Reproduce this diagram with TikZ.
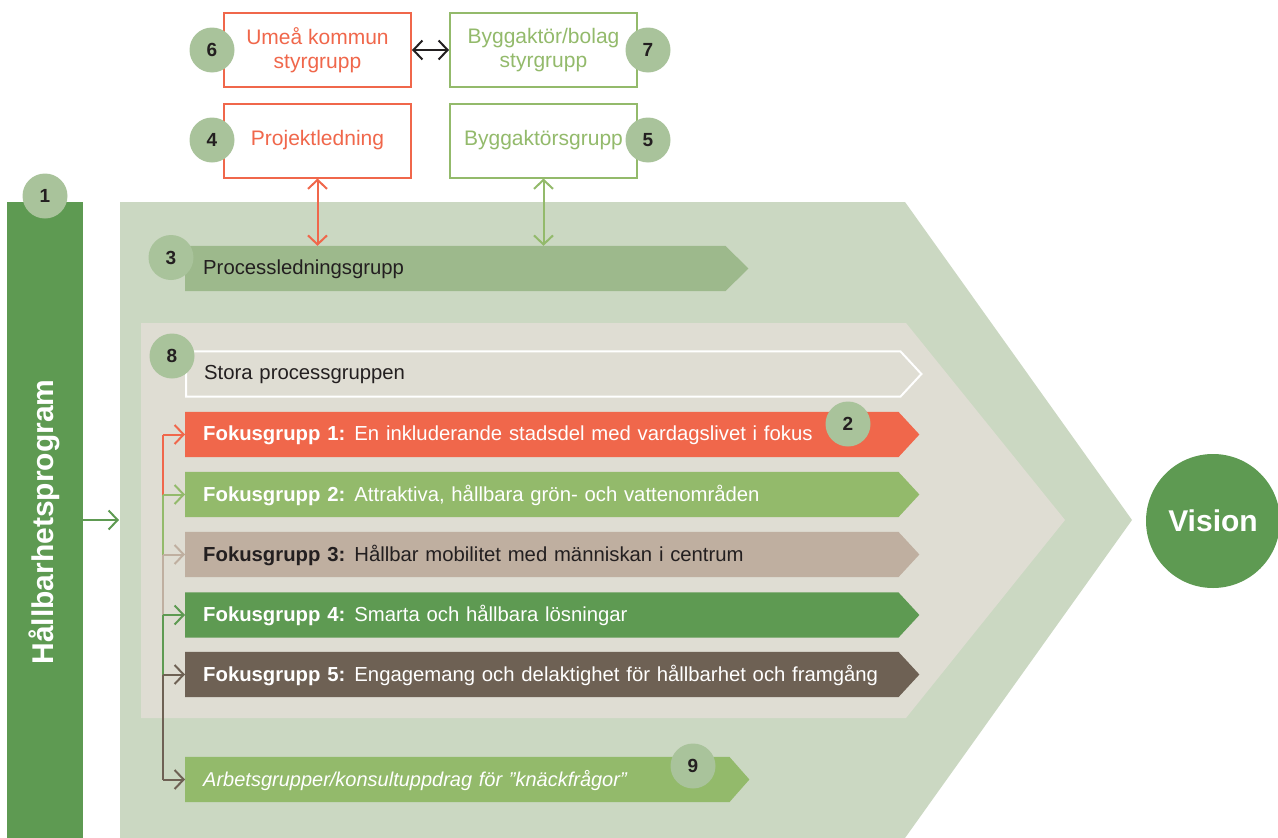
\documentclass[tikz,border=0pt]{standalone}
\usepackage{fontspec}
\setmainfont{Liberation Sans}
\usetikzlibrary{arrows.meta}
\definecolor{dgreen}{HTML}{5E9A52}
\definecolor{lgreen}{HTML}{93BA6B}
\definecolor{outerc}{HTML}{CBD8C2}
\definecolor{innerc}{HTML}{DFDDD3}
\definecolor{procc}{HTML}{9DB98C}
\definecolor{circc}{HTML}{A9C39B}
\definecolor{orangec}{HTML}{F0674B}
\definecolor{tanc}{HTML}{BFAFA0}
\definecolor{brownc}{HTML}{6E6154}
\definecolor{txt}{HTML}{231F20}
\pgfdeclarelayer{back}
\pgfdeclarelayer{bars}
\pgfsetlayers{back,bars,main}
\newcommand\pentfill[4]{% node, fill, draw options, tip
  \begin{pgfonlayer}{bars}
  \path[#2] (#1.north west) -- (#1.north east) -- ([xshift=#4]#1.east) -- (#1.south east) -- (#1.south west) -- cycle;
  \end{pgfonlayer}}
\begin{document}
\begin{tikzpicture}[x=1pt,y=-1pt,
  bar/.style={font=\fontsize{20.3}{24}\selectfont, minimum height=45pt, inner xsep=18pt, inner ysep=0pt, align=left, anchor=west, text depth=3pt},
  numc/.style={circle, fill=circc, minimum size=45pt, inner sep=0pt, text=txt, font=\bfseries\fontsize{19}{19}\selectfont},
  topbox/.style={draw, line width=2pt, fill=white, minimum width=187pt, minimum height=74pt, align=center, font=\fontsize{21}{24}\selectfont},
  arr/.style={line width=2pt, -{Straight Barb[length=9pt,width=19pt]}},
  dbl/.style={line width=2pt, {Straight Barb[length=9pt,width=19pt]}-{Straight Barb[length=9pt,width=19pt]}},
  ln/.style={line width=2pt}]
\useasboundingbox (0,0) rectangle (1278,838);

% chevrons
\begin{pgfonlayer}{back}
\fill[outerc] (120,202) -- (905,202) -- (1132,520) -- (905,838) -- (120,838) -- cycle;
\fill[innerc] (141,323) -- (906,323) -- (1065,520) -- (906,718) -- (141,718) -- cycle;
\end{pgfonlayer}

% left bar
\node[fill=dgreen, minimum width=76pt, minimum height=636pt, inner sep=0pt] (lbar) at (45,520) {};
\node[rotate=90, text=white, font=\bfseries\fontsize{30}{32}\selectfont] (lbartext) at (44,522) {Hållbarhetsprogram};
\node[numc] (n1) at (45,196) {1};
\coordinate (outerL) at (119,520);
\draw[arr, dgreen] (lbar.east) -- (outerL);

% Vision
\node[circle, fill=dgreen, minimum size=134pt, inner sep=0pt, text=white, font=\bfseries\fontsize{30}{30}\selectfont] (vision) at (1213,521) {Vision};

% top boxes
\node[topbox, draw=orangec, text=orangec] (b6) at (317.5,50) {Umeå kommun\\styrgrupp};
\node[topbox, draw=lgreen, text=lgreen] (b7) at (543.5,50) {Byggaktör/bolag\\styrgrupp};
\node[topbox, draw=orangec, text=orangec] (b4) at (317.5,140.5) {Projektledning};
\node[topbox, draw=lgreen, text=lgreen] (b5) at (543.5,140.5) {Byggaktörsgrupp};
\node[numc] (n6) at (212,50) {6};
\node[numc] (n7) at (648,50) {7};
\node[numc] (n4) at (212,140) {4};
\node[numc] (n5) at (648,140) {5};
\draw[dbl, txt] (b6.east) -- (b7.west);

% process bar
\node[bar, minimum width=540pt, text width=504pt, text=txt] (pl) at (185,268.5) {Processledningsgrupp};
\pentfill{pl}{fill=procc}{}{23pt}
\node[numc] (n3) at (171,257.5) {3};
\draw[dbl, orangec] (b4.south) -- (b4.south |- pl.north);
\draw[dbl, lgreen] (b5.south) -- (b5.south |- pl.north);

% stora processgruppen
\node[bar, minimum width=714pt, text width=678pt, text=txt] (sp) at (186,374) {Stora processgruppen};
\pentfill{sp}{draw=white, line width=2pt, line join=miter}{}{21pt}
\node[numc] (n8) at (172,356) {8};

% focus groups
\node[bar, minimum width=713pt, text width=677pt, text=white] (fg1) at (185,434.5) {{\bfseries Fokusgrupp 1:}\hspace{-1pt} En inkluderande stadsdel med vardagslivet i fokus};
\pentfill{fg1}{fill=orangec}{}{21pt}
\node[bar, minimum width=713pt, text width=677pt, text=white] (fg2) at (185,494.5) {{\bfseries Fokusgrupp 2:}\hspace{-1pt} Attraktiva, hållbara grön- och vattenområden};
\pentfill{fg2}{fill=lgreen}{}{21pt}
\node[bar, minimum width=713pt, text width=677pt, text=txt] (fg3) at (185,554.5) {{\bfseries Fokusgrupp 3:}\hspace{-1pt} Hållbar mobilitet med människan i centrum};
\pentfill{fg3}{fill=tanc}{}{21pt}
\node[bar, minimum width=713pt, text width=677pt, text=white] (fg4) at (185,615) {{\bfseries Fokusgrupp 4:}\hspace{-1pt} Smarta och hållbara lösningar};
\pentfill{fg4}{fill=dgreen}{}{21pt}
\node[bar, minimum width=713pt, text width=677pt, text=white] (fg5) at (185,674.5) {{\bfseries Fokusgrupp 5:}\hspace{-1pt} Engagemang och delaktighet för hållbarhet och framgång};
\pentfill{fg5}{fill=brownc}{}{21pt}
\node[numc] (n2) at (848,424) {2};

% arbetsgrupper
\node[bar, minimum width=544pt, text width=508pt, text=white, font=\itshape\fontsize{20}{24}\selectfont] (ag) at (185,779.5) {Arbetsgrupper/konsultuppdrag för "knäckfrågor"};
\pentfill{ag}{fill=lgreen}{}{20pt}
\node[numc] (n9) at (693,766) {9};

% bracket
\coordinate (k1) at (163,434.5);
\coordinate (k2) at (163,494.5);
\coordinate (k3) at (163,554.5);
\coordinate (k4) at (163,615);
\coordinate (k5) at (163,674.5);
\coordinate (k6) at (163,779.5);
\draw[ln, orangec] (k1) -- (k2);
\draw[ln, lgreen] (k2) -- (k3);
\draw[ln, tanc] (k3) -- (k4);
\draw[ln, dgreen] (k4) -- (k5);
\draw[ln, brownc] (k5) -- (k6);
\draw[arr, orangec] (k1) -- (fg1.west);
\draw[arr, lgreen] (k2) -- (fg2.west);
\draw[arr, tanc] (k3) -- (fg3.west);
\draw[arr, dgreen] (k4) -- (fg4.west);
\draw[arr, brownc] (k5) -- (fg5.west);
\draw[arr, brownc] (k6) -- (ag.west);
\end{tikzpicture}
\end{document}
